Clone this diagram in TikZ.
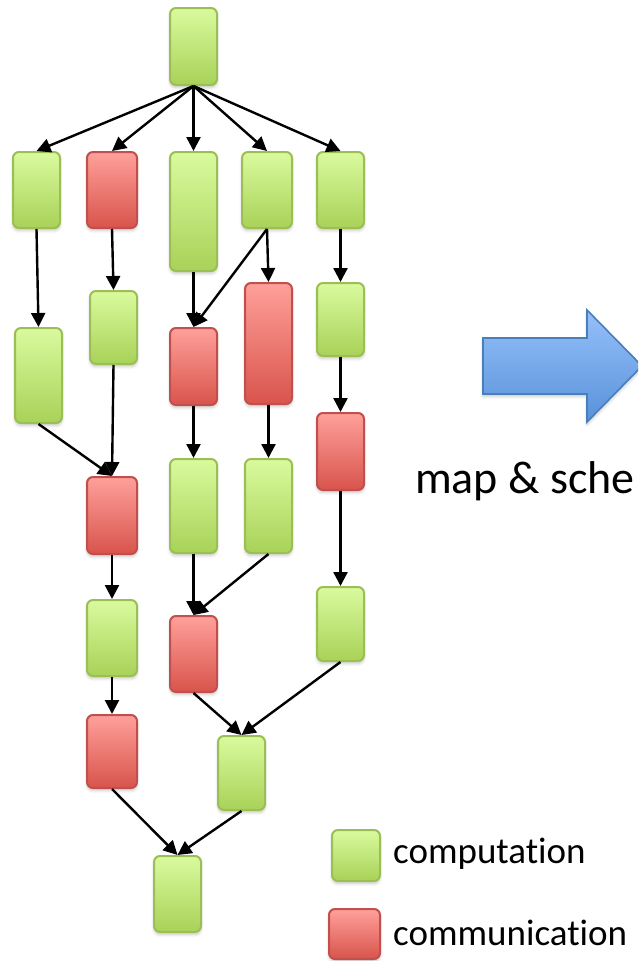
\documentclass[tikz,border=0pt]{standalone}
\usepackage{fontspec}
\setmainfont{Carlito}[Ligatures={NoCommon,NoContextual},RawFeature={-liga;-clig;-calt}]
\usetikzlibrary{arrows.meta,shadows.blur}

\definecolor{compTop}{RGB}{218,250,158}
\definecolor{compBot}{RGB}{168,210,88}
\definecolor{compLine}{RGB}{155,190,85}
\definecolor{commTop}{RGB}{255,160,154}
\definecolor{commBot}{RGB}{216,84,76}
\definecolor{commLine}{RGB}{192,80,77}
\definecolor{flowTop}{RGB}{150,192,250}
\definecolor{flowBot}{RGB}{88,146,218}
\definecolor{flowLine}{RGB}{74,126,187}

\tikzset{
  task/.style={rounded corners=6pt, line width=2pt, inner sep=0pt,
    blur shadow={shadow xshift=0pt, shadow yshift=-2.5pt, shadow blur radius=3pt,
      shadow blur steps=6, shadow opacity=22}},
  comp/.style={task, draw=compLine, top color=compTop, bottom color=compBot},
  comm/.style={task, draw=commLine, top color=commTop, bottom color=commBot},
  dims/.style 2 args={minimum width=#1pt, minimum height=#2pt},
  edge/.style={line width=2.4pt, -{Triangle[length=14pt,width=14pt]}},
  bigtext/.style={font=\fontsize{46}{52}\selectfont, inner sep=0pt},
  legtext/.style={font=\fontsize{37}{42}\selectfont, inner sep=0pt},
}

\begin{document}
\begin{tikzpicture}[x=1pt, y=-1pt]
\useasboundingbox (0,0) rectangle (638,961);
\clip (0,0) rectangle (638,961);

% task graph
\node[comp, dims={47}{77}]  (top) at (193.5,46.5) {};

\node[comp, dims={47}{76}]  (a1) at (36.5,190) {};
\node[comm, dims={50}{76}]  (b1) at (112,190) {};
\node[comp, dims={47}{119}] (c1) at (193.5,211.5) {};
\node[comp, dims={50}{76}]  (d1) at (267,190) {};
\node[comp, dims={47}{76}]  (e1) at (340.5,190) {};

\node[comp, dims={47}{95}]  (a2) at (38.5,375.5) {};
\node[comp, dims={47}{73}]  (b2) at (113.5,327.5) {};
\node[comm, dims={47}{77}]  (c2) at (193.5,366.5) {};
\node[comm, dims={47}{121}] (d2) at (268.5,343.5) {};
\node[comp, dims={47}{73}]  (e2) at (340.5,319.5) {};

\node[comm, dims={50}{77}]  (b3) at (112,515.5) {};
\node[comp, dims={47}{94}]  (c3) at (193.5,506) {};
\node[comp, dims={47}{94}]  (d3) at (268.5,506) {};
\node[comm, dims={47}{77}]  (e3) at (340.5,451.5) {};

\node[comp, dims={50}{76}]  (b4) at (112,638) {};
\node[comm, dims={47}{76}]  (c4) at (193.5,654) {};
\node[comp, dims={47}{74}]  (e4) at (340.5,624) {};

\node[comm, dims={50}{73}]  (b5) at (112,751.5) {};
\node[comp, dims={47}{74}]  (d5) at (241.5,773) {};

\node[comp, dims={47}{76}]  (f)  at (177.5,894) {};

% dependencies
\foreach \t in {a1,b1,c1,d1,e1} \draw[edge] (top.south) -- (\t.north);
\draw[edge] (a1.south) -- (a2.north);
\draw[edge] (b1.south) -- (b2.north);
\draw[edge] (c1.south) -- (c2.north);
\draw[edge] (d1.south) -- (c2.north);
\draw[edge] (d1.south) -- (d2.north);
\draw[edge] (e1.south) -- (e2.north);
\draw[edge] (a2.south) -- (b3.north);
\draw[edge] (b2.south) -- (b3.north);
\draw[edge] (c2.south) -- (c3.north);
\draw[edge] (d2.south) -- (d3.north);
\draw[edge] (e2.south) -- (e3.north);
\draw[edge] (e3.south) -- (e4.north);
\draw[edge] (b3.south) -- (b4.north);
\draw[edge] (c3.south) -- (c4.north);
\draw[edge] (d3.south) -- (c4.north);
\draw[edge] (b4.south) -- (b5.north);
\draw[edge] (c4.south) -- (d5.north);
\draw[edge] (e4.south) -- (d5.north);
\draw[edge] (b5.south) -- (f.north);
\draw[edge] (d5.south) -- (f.north);

% block arrow
\path[draw=flowLine, line width=1.6pt, top color=flowTop, bottom color=flowBot,
      line join=miter,
      blur shadow={shadow xshift=0pt, shadow yshift=-2.5pt, shadow blur radius=3pt,
      shadow blur steps=6, shadow opacity=22}]
  (483,338) -- (587,338) -- (587,310) -- (642,366) -- (587,422) -- (587,394)
  -- (483,394) -- cycle;

\node[bigtext, anchor=base west] (label) at (415,493) {map \& sche};

% legend (the kern keeps "t" and "i" as separate letters)
\node[comp, dims={48}{51}] (lgcomp) at (356,855.5) {};
\node[comm, dims={51}{50}] (lgcomm) at (354.5,934) {};
\node[legtext, anchor=base west] (lgcomptext) at (393,863) {computat\kern0pt ion};
\node[legtext, anchor=base west] (lgcommtext) at (393,945) {communicat\kern0pt ion};
\end{tikzpicture}
\end{document}
